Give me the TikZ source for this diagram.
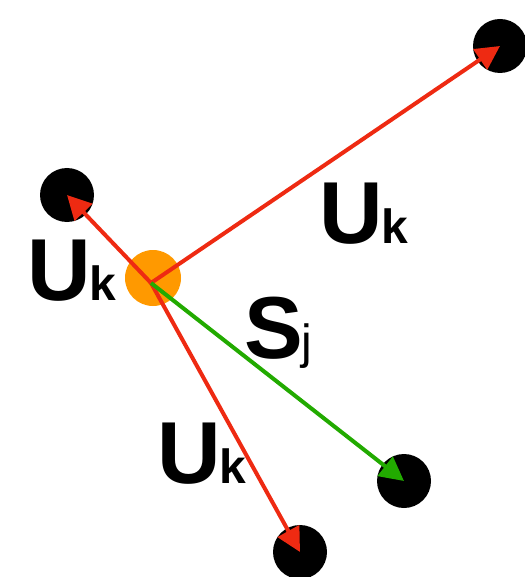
\documentclass[tikz,border=0pt]{standalone}
\usepackage{fontspec}
\setsansfont{Liberation Sans}
\usetikzlibrary{arrows.meta}
\definecolor{vecred}{HTML}{EE2A12}
\definecolor{vecgreen}{HTML}{22AA00}
\definecolor{hubcolor}{HTML}{FF9900}
\newcommand{\sublabel}[1]{\kern-1pt{\fontsize{48}{48}\selectfont #1}}

\begin{document}
\begin{tikzpicture}[
  x=1pt, y=-1pt,
  font=\sffamily,
  hub/.style={circle, fill=hubcolor, minimum size=56pt, inner sep=0pt},
  user/.style={circle, fill=black, minimum size=54pt, inner sep=0pt},
  vec/.style={-{Triangle[length=24pt, width=24pt]}, line width=4pt},
  biglabel/.style={anchor=base west, inner sep=0pt, font=\sffamily\bfseries\fontsize{88}{88}\selectfont}
]
\useasboundingbox (0,0) rectangle (524,577);
\node[hub] (hub) at (153,278) {};
\coordinate (src) at (151,283);
\node[user] (far) at (500,46) {};
\node[user] (near) at (67,195) {};
\node[user] (serv) at (404,481) {};
\node[user] (low) at (300,552) {};
\draw[vec, vecred] (src) -- (far.center);
\draw[vec, vecred] (src) -- (near.center);
\draw[vec, vecred] (src) -- (low.center);
\draw[vec, vecgreen] (src) -- (serv.center);
\node[biglabel] (lfar) at (319,243) {U\sublabel{k}};
\node[biglabel] (lnear) at (27,300) {U\sublabel{k}};
\node[biglabel] (llow) at (157,483) {U\sublabel{k}};
\node[biglabel] (lserv) at (244,358) {S\sublabel{\mdseries j}};
\end{tikzpicture}
\end{document}
